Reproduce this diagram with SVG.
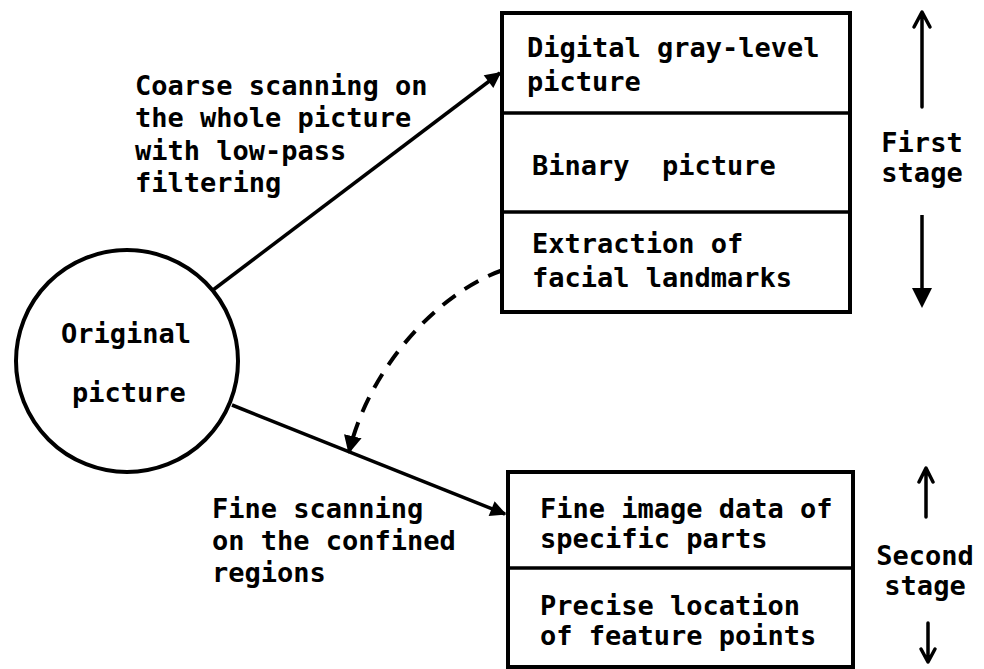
<svg xmlns="http://www.w3.org/2000/svg" width="984" height="669" viewBox="0 0 984 669">
<style>
text{font-family:"DejaVu Sans Mono","Liberation Mono",monospace;font-weight:bold;font-size:27px;fill:#000}
.box{fill:#fff;stroke:#000;stroke-width:4}
.div{stroke:#000;stroke-width:3.5}
.con{fill:none;stroke:#000;stroke-width:3.5}
.dash{fill:none;stroke:#000;stroke-width:4;stroke-dasharray:16 11}
.stg{fill:none;stroke:#000;stroke-width:3.5;stroke-linecap:round;stroke-linejoin:round}
</style>
<defs>
<marker id="ah" viewBox="0 0 10 10" refX="9" refY="5" markerWidth="18" markerHeight="16" markerUnits="userSpaceOnUse" orient="auto">
<path d="M0,0 L10,5 L0,10 z" fill="#000"/>
</marker>
<marker id="ad" viewBox="0 0 10 10" refX="9" refY="5" markerWidth="18" markerHeight="18" markerUnits="userSpaceOnUse" orient="auto">
<path d="M0,0 L10,5 L0,10 z" fill="#000"/>
</marker>
</defs>
<g id="connectors">
<line class="con" x1="213" y1="290" x2="500" y2="73" marker-end="url(#ah)"/>
<line class="con" x1="232" y1="405" x2="505" y2="514" marker-end="url(#ah)"/>
<path class="dash" d="M503,270 C440,292 370,365 349,452" marker-end="url(#ad)"/>
</g>
<g id="original">
<circle cx="127" cy="361" r="111" fill="#fff" stroke="#000" stroke-width="4"/>
<text x="61" y="343">Original</text>
<text x="72" y="402">picture</text>
</g>
<g id="coarse-label">
<text x="135" y="95">Coarse scanning on</text>
<text x="135" y="127">the whole picture</text>
<text x="135" y="160">with low-pass</text>
<text x="135" y="192">filtering</text>
</g>
<g id="fine-label">
<text x="212" y="518">Fine scanning</text>
<text x="212" y="550">on the confined</text>
<text x="212" y="582">regions</text>
</g>
<g id="first-stage-box">
<rect class="box" x="502" y="13" width="348" height="299"/>
<line class="div" x1="502" y1="113" x2="850" y2="113"/>
<line class="div" x1="502" y1="212" x2="850" y2="212"/>
<text x="527" y="57">Digital gray-level</text>
<text x="527" y="91">picture</text>
<text x="532" y="175" xml:space="preserve">Binary  picture</text>
<text x="532" y="253">Extraction of</text>
<text x="532" y="287">facial landmarks</text>
</g>
<g id="second-stage-box">
<rect class="box" x="508" y="472" width="345" height="195"/>
<line class="div" x1="508" y1="568" x2="853" y2="568"/>
<text x="540" y="518">Fine image data of</text>
<text x="540" y="548">specific parts</text>
<text x="540" y="615">Precise location</text>
<text x="540" y="645">of feature points</text>
</g>
<g id="first-stage">
<path class="stg" d="M922,107 V13 M914,27 L922,12 L930,27"/>
<line class="con" x1="922" y1="215" x2="922" y2="292"/>
<path d="M912,288 L932,288 L922,308 z" fill="#000"/>
<text x="922" y="152" text-anchor="middle">First</text>
<text x="922" y="182" text-anchor="middle">stage</text>
</g>
<g id="second-stage">
<path class="stg" d="M926,517 V469 M919,482 L926,468 L933,482"/>
<path class="stg" d="M928,623 V662 M921,649 L928,662 L935,649"/>
<text x="925" y="565" text-anchor="middle">Second</text>
<text x="925" y="595" text-anchor="middle">stage</text>
</g>
</svg>
